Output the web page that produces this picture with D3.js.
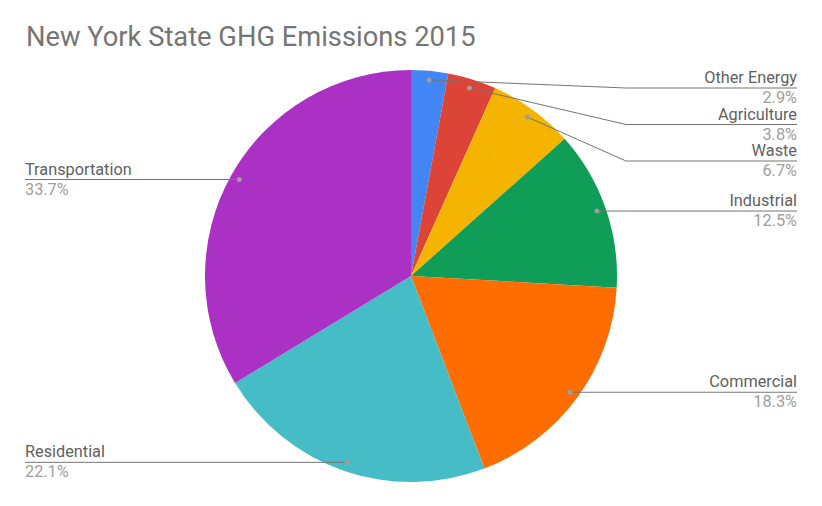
<!DOCTYPE html>
<html>
<head>
<meta charset="utf-8">
<script src="https://cdn.jsdelivr.net/npm/d3@7"></script>
<style>
  body { margin: 0; background: #fff; }
  svg { font-family: Roboto, "Noto Sans", sans-serif; }
</style>
</head>
<body>
<div id="chart"></div>
<script>
// GHG emissions by sector, NY State 2015 (percent)
var categories = ["Other Energy", "Agriculture", "Waste", "Industrial", "Commercial", "Residential", "Transportation"];
var values = [2.9, 3.8, 6.7, 12.5, 18.3, 22.1, 33.7];
var colors = ["#4285f4", "#db4437", "#f4b400", "#0f9d58", "#ff6d01", "#46bdc6", "#ab30c4"];

var width = 822, height = 506;
var cx = 411, cy = 276, radius = 206;

var svg = d3.select("#chart").append("svg")
  .attr("width", width)
  .attr("height", height);

svg.append("text")
  .attr("x", 26)
  .attr("y", 46)
  .attr("font-size", 27.3)
  .attr("fill", "#757575")
  .text("New York State GHG Emissions 2015");

var data = categories.map(function(c, i) { return {name: c, value: values[i], color: colors[i]}; });

var pie = d3.pie()
  .sort(null)
  .value(function(d) { return d.value; });

var arc = d3.arc()
  .innerRadius(0)
  .outerRadius(radius);

var dotArc = d3.arc()
  .innerRadius(radius * 0.956)
  .outerRadius(radius * 0.956);

var arcs = pie(data);

var g = svg.append("g")
  .attr("transform", "translate(" + cx + "," + cy + ")");

g.selectAll("path")
  .data(arcs)
  .enter()
  .append("path")
  .attr("d", arc)
  .attr("fill", function(d) { return d.data.color; });

// label layout: right side stacked downward, left side straight out
var rightX = 797 - cx, leftX = 25 - cx, kneeX = 626 - cx;
var minTop = 88 - cy, gap = 36.5;
var prevY = -Infinity;
arcs.forEach(function(d) {
  var p = dotArc.centroid(d);
  d.dot = p;
  d.right = p[0] >= 0;
  if (d.right) {
    var y = Math.max(p[1], minTop, prevY + gap);
    d.lineY = y;
    prevY = y;
  } else {
    d.lineY = p[1];
  }
});

var labels = g.selectAll("g.label")
  .data(arcs)
  .enter()
  .append("g")
  .attr("class", "label");

labels.append("polyline")
  .attr("fill", "none")
  .attr("stroke", "#757575")
  .attr("stroke-width", 1)
  .attr("points", function(d) {
    var pts = [d.dot];
    if (Math.abs(d.lineY - d.dot[1]) > 0.5) pts.push([kneeX, d.lineY]);
    pts.push([d.right ? rightX : leftX, d.lineY]);
    return pts.map(function(p) { return p.join(","); }).join(" ");
  });

labels.append("circle")
  .attr("cx", function(d) { return d.dot[0]; })
  .attr("cy", function(d) { return d.dot[1]; })
  .attr("r", 2.5)
  .attr("fill", "#9e9e9e");

labels.append("text")
  .attr("x", function(d) { return d.right ? rightX : leftX; })
  .attr("y", function(d) { return d.lineY - 5; })
  .attr("text-anchor", function(d) { return d.right ? "end" : "start"; })
  .attr("font-size", 16.3)
  .attr("fill", "#616161")
  .text(function(d) { return d.data.name; });

labels.append("text")
  .attr("x", function(d) { return d.right ? rightX : leftX; })
  .attr("y", function(d) { return d.lineY + 15; })
  .attr("text-anchor", function(d) { return d.right ? "end" : "start"; })
  .attr("font-size", 16.3)
  .attr("fill", "#9e9e9e")
  .text(function(d) { return d.data.value.toFixed(1) + "%"; });
</script>
</body>
</html>
